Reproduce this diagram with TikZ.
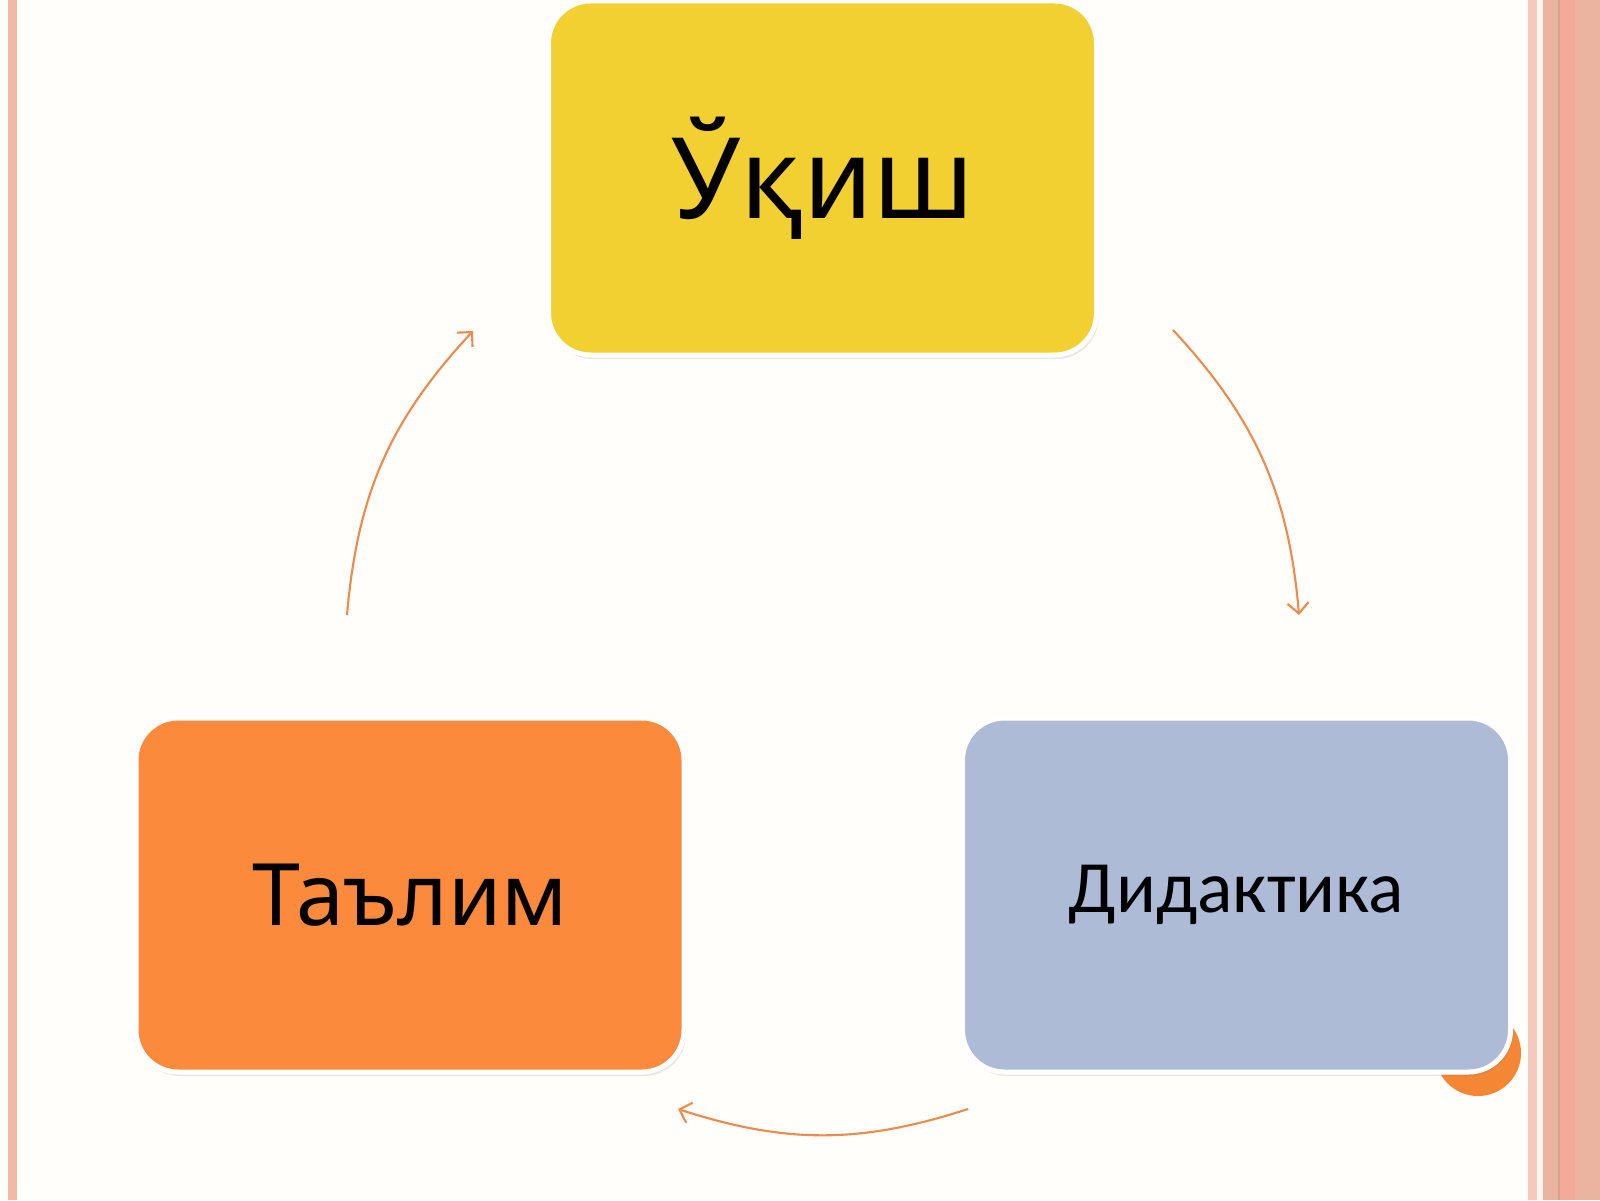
\documentclass[tikz,border=0pt]{standalone}
\usepackage{fontspec}
\setmainfont{Noto Sans}
\newfontfamily\carlito{Carlito}
\usetikzlibrary{positioning,shadows,arrows.meta}
\definecolor{bgc}{HTML}{FFFEFA}
\definecolor{ukishc}{HTML}{F3D031}
\definecolor{taalimc}{HTML}{FB8A3C}
\definecolor{didc}{HTML}{AEBBD6}
\definecolor{arcc}{HTML}{EE8A4C}
\definecolor{dotc}{HTML}{F58634}
\definecolor{framec}{HTML}{F2B9A6}

\begin{document}
\begin{tikzpicture}[b/.style={rectangle, rounded corners=0.42cm, draw=white, line width=0.05cm, minimum width=5.48cm, minimum height=3.54cm, drop shadow={opacity=0.18, shadow xshift=0.02cm, shadow yshift=-0.04cm}}, cyc/.style={-{Straight Barb[length=3pt,width=6pt]}, draw=arcc, line width=0.6pt}]
		\useasboundingbox (0,0) rectangle (16,12);
		\fill[bgc] (0,0) rectangle (16,12);
		\fill[framec] (0.08,0) rectangle (0.17,12);
		\fill[framec!75!white] (15.28,0) rectangle (15.37,12);
		\fill[framec!15!white] (15.37,0) rectangle (15.43,12);
		\fill[framec!97!black] (15.43,0) rectangle (15.58,12);
		\fill[framec!88!black] (15.58,0) rectangle (15.60,12);
		\fill[framec!92!red] (15.60,0) rectangle (15.75,12);
		\fill[framec!97!black] (15.75,0) rectangle (16,12);

		\node[b, fill=ukishc, font=\fontsize{32}{38}\selectfont] (ukish) at (8.225,10.22) {Ўқиш};
		\node[b, fill=taalimc, font=\fontsize{24.5}{30}\selectfont, below=3.58cm of ukish, xshift=-4.125cm] (taalim) {Таълим};
		\node[circle, fill=dotc, minimum size=0.86cm, inner sep=0pt] (dot) at (14.78,1.47) {};
		\node[b, fill=didc, font=\carlito\fontsize{21}{25}\selectfont, right=2.735cm of taalim] (didaktika) {Дидактика};

		\coordinate (l1) at (3.47,5.85);
		\coordinate (l2) at (4.73,8.69);
		\coordinate (r1) at (11.73,8.70);
		\coordinate (r2) at (12.99,5.85);
		\coordinate (d1) at (9.68,0.91);
		\coordinate (d2) at (6.78,0.91);

		\draw[cyc] (l1) to[bend left=19] (l2);
		\draw[cyc] (r1) to[bend left=19] (r2);
		\draw[cyc] (d1) to[bend left=18] (d2);
	\end{tikzpicture}
\end{document}
